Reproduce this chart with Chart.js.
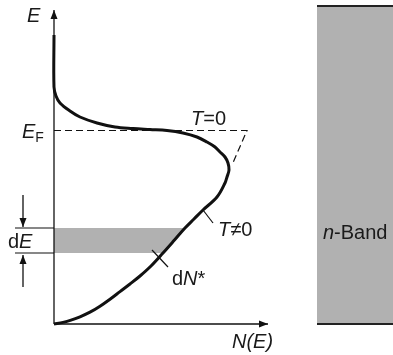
<!DOCTYPE html>
<html>
<head>
<meta charset="utf-8">
<script src="https://cdn.jsdelivr.net/npm/chart.js@4/dist/chart.umd.min.js"></script>
<style>
  html,body{margin:0;padding:0;background:#fff;}
  #wrap{width:393px;height:355px;}
</style>
</head>
<body>
<div id="wrap"><canvas id="myChart"></canvas></div>
<script>
// density of states N(E) at T != 0 (arbitrary units)
const curveN = [0, 0, 1, 3, 8, 13, 21.5, 30.5, 39.5, 48, 56.5, 64.5, 71.5, 76.5, 80.5, 83, 85.5, 87, 87.5, 86.5, 85.5, 81.5, 74.5, 70, 65.5, 60, 54.5, 48.5, 43, 38, 33, 28, 23, 18, 13, 8.5, 4.5, 0];
const curveE = [144.5, 118.5, 114, 110.5, 106.5, 103.5, 100.5, 98.5, 97.75, 97.25, 96.75, 95.5, 93.5, 91, 88.5, 86, 83.5, 80.5, 77, 73.5, 70.5, 63.5, 57, 52.5, 48, 41.7, 35.5, 29, 24, 20, 16.2, 12.4, 8.9, 5.9, 3.6, 1.9, 0.8, 0];

// T = 0 edge (dashed)
const fermiN = [0, 96.5, 89];
const fermiE = [96.75, 96.75, 79.5];

// shaded slice dE -> dN* (lower edge + curve, filled up to the top of the slice)
const bandN = [0, 54.5, 60, 65.5];
const bandE = [35.5, 35.5, 41.7, 48];
const bandTop = 48;

// n-band block on the right
const blockN = [131.5, 170];
const blockTop = 159;

// axes
const axisTopE = 157;
const axisEndN = 107;

// small marks: dE arrows, label ticks
const dEArrowN = -15.5;
const dEArrowDown = [64.5, 48.5];
const dEArrowUp = [18.5, 34.5];
const dELinesN = [-19.5, 0];
const tickT = [[74.5, 57], [79.5, 50.5]];
const tickDN = [[49, 37], [57, 28.5]];

const pts = (xs, ys) => xs.map((x, i) => ({x: x, y: ys[i]}));

// arrow head as a point style, tip sits at the point
function arrowHead(){
  const c = document.createElement('canvas');
  c.width = 8; c.height = 20;
  const g = c.getContext('2d');
  g.fillStyle = '#111';
  g.beginPath();
  g.moveTo(4, 10);
  g.lineTo(7.5, 19);
  g.lineTo(0.5, 19);
  g.closePath();
  g.fill();
  return c;
}
const arrow = arrowHead();

const ink = '#111';
const grey = '#b1b1b1';

function line(data, extra){
  return Object.assign({
    data: data, showLine: true, pointRadius: 0, borderColor: ink,
    borderWidth: 1.3, fill: false, tension: 0
  }, extra || {});
}
function arrowLine(data, rot){
  return line(data, {
    pointStyle: arrow, pointRotation: rot,
    pointRadius: ctx => ctx.dataIndex === data.length - 1 ? 1 : 0
  });
}

const labels = [
  {x: -13.5, y: 151, runs: [['E', 'i']]},
  {x: -16, y: 93, runs: [['E', 'i'], ['F', 'sub']]},
  {x: 68.5, y: 99.5, runs: [['T', 'i'], ['=', 'n'], ['0', 'n']]},
  {x: 82, y: 44, runs: [['T', 'i'], ['\u2260', 'n'], ['0', 'n']]},
  {x: 59, y: 19.5, runs: [['d', 'n'], ['N', 'i'], ['*', 'n']]},
  {x: -23, y: 38, runs: [['d', 'n'], ['E', 'i']]},
  {x: 89, y: -12, runs: [['N(E)', 'i']]},
  {x: 134.5, y: 42.5, runs: [['n', 'i'], ['-Band', 'n']]}
];

const textPlugin = {
  id: 'texts',
  afterDraw(chart){
    const c = chart.ctx, sx = chart.scales.x, sy = chart.scales.y;
    c.save();
    c.fillStyle = '#1a1a1a';
    c.textBaseline = 'alphabetic';
    labels.forEach(l => {
      let px = sx.getPixelForValue(l.x);
      const py = sy.getPixelForValue(l.y);
      l.runs.forEach(r => {
        let dy = 0;
        if (r[1] === 'sub') { c.font = '14px "Liberation Sans", Arial, sans-serif'; dy = 4; }
        else if (r[1] === 'i') c.font = 'italic 20px "Liberation Sans", Arial, sans-serif';
        else c.font = '20px "Liberation Sans", Arial, sans-serif';
        c.fillText(r[0], px, py + dy);
        px += c.measureText(r[0]).width;
      });
    });
    c.restore();
  }
};

const ctx = document.getElementById('myChart').getContext('2d');
const chart = new Chart(ctx, {
  type: 'scatter',
  data: {
    datasets: [
      line(pts(curveN, curveE), {borderWidth: 3, tension: 0.35}),
      line(pts(fermiN, fermiE), {borderWidth: 1.2, borderDash: [7, 4]}),
      line(tickT.map(p => ({x: p[0], y: p[1]})), {borderWidth: 1.2}),
      line(tickDN.map(p => ({x: p[0], y: p[1]})), {borderWidth: 1.2}),
      arrowLine(pts([0, 0], [0, axisTopE]), 0),
      arrowLine(pts([0, axisEndN], [0, 0]), 90),
      arrowLine(pts([dEArrowN, dEArrowN], dEArrowDown), 180),
      arrowLine(pts([dEArrowN, dEArrowN], dEArrowUp), 0),
      line(pts(dELinesN, [bandTop, bandTop]), {borderWidth: 1.1}),
      line(pts(dELinesN, [bandE[0], bandE[0]]), {borderWidth: 1.1}),
      line(pts(bandN, bandE), {borderColor: 'transparent', backgroundColor: grey, fill: {value: bandTop}}),
      line(pts(blockN, [0, 0]), {borderWidth: 2, borderColor: '#222'}),
      line(pts(blockN, [blockTop, blockTop]), {borderWidth: 2, borderColor: '#222', backgroundColor: grey, fill: {value: 0}})
    ]
  },
  options: {
    responsive: true,
    maintainAspectRatio: false,
    animation: false,
    layout: {padding: 0, autoPadding: false},
    plugins: {legend: {display: false}, tooltip: {enabled: false}},
    scales: {
      x: {type: 'linear', min: -27, max: 169.5, display: false},
      y: {type: 'linear', min: -15.5, max: 162, display: false}
    }
  },
  plugins: [textPlugin]
});
</script>
</body>
</html>
